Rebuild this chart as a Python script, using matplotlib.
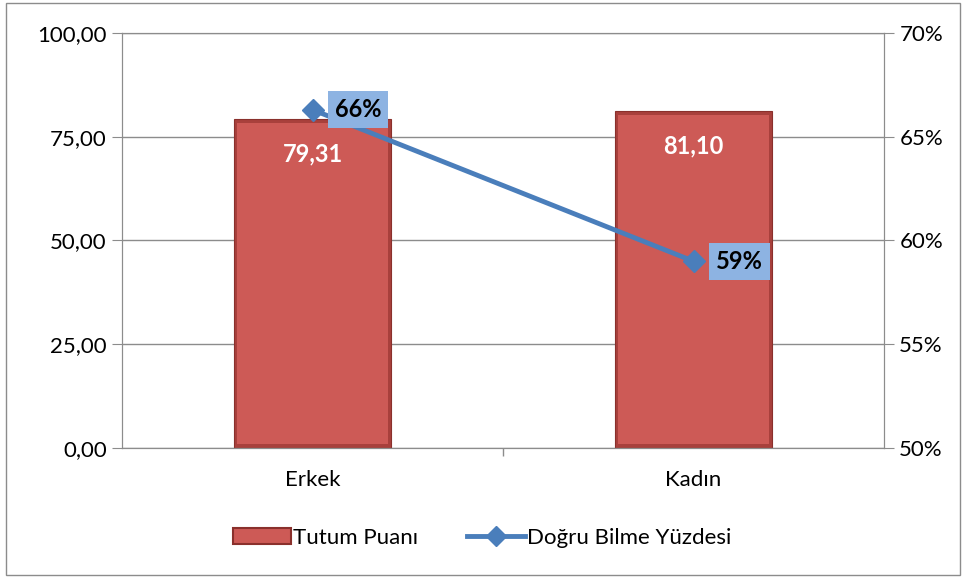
import numpy as np
import matplotlib.pyplot as plt
from matplotlib.patches import Rectangle
from matplotlib.lines import Line2D
from matplotlib.ticker import FuncFormatter

categories = ["Erkek", "Kadın"]
tutum_puani = [79.31, 81.10]
dogru_bilme = [66.3, 59.0]  # percent
bar_labels = ["79,31", "81,10"]
line_labels = ["66%", "59%"]

plt.rcParams["font.family"] = ["Lato", "DejaVu Sans"]

BAR = "#cd5a56"
BAR_EDGE = "#8a302c"
LINE = "#4a7ebb"
GRID = "#8c8c8c"


def main():
    fig = plt.figure(figsize=(9.64, 5.78), dpi=100)
    ax = fig.add_axes([0.1266, 0.2249, 0.7904, 0.7181])
    ax2 = ax.twinx()

    x = np.arange(len(categories))
    # bevel look: dark outer bar, lighter inner bar
    ax.bar(x, tutum_puani, width=0.41, color="#a8403c", edgecolor=BAR_EDGE,
           linewidth=0.8, zorder=2)
    ax.bar(x, np.array(tutum_puani) - 1.8, bottom=0.9, width=0.395, color=BAR,
           linewidth=0, zorder=3)
    for xi, v, s in zip(x, tutum_puani, bar_labels):
        ax.annotate(s, xy=(xi, v), xytext=(0, -25), textcoords="offset points",
                    ha="center", va="center", color="white", fontsize=17,
                    fontweight="bold", zorder=5)

    ax.set_xlim(-0.5, 1.5)
    ax.set_ylim(0, 100)
    ax.set_yticks([0, 25, 50, 75, 100])
    ax.yaxis.set_major_formatter(FuncFormatter(lambda v, p: f"{v:.2f}".replace(".", ",")))
    ax.set_xticks(x)
    ax.set_xticklabels(categories, fontsize=16)
    ax.set_xticks([0.5], minor=True)
    ax.tick_params(axis="x", which="major", length=0, pad=16)
    ax.tick_params(axis="x", which="minor", length=6, color=GRID, width=1)
    ax.tick_params(axis="y", labelsize=16, length=7, color=GRID, pad=4)
    ax.yaxis.grid(True, color=GRID, linewidth=1)
    ax.set_axisbelow(True)
    for sp in ax.spines.values():
        sp.set_color(GRID)
    for sp in ax2.spines.values():
        sp.set_color(GRID)

    ax2.plot(x, dogru_bilme, color=LINE, linewidth=3.5, marker="D",
             markersize=11, markerfacecolor=LINE, markeredgecolor=LINE, zorder=4)
    ax2.set_ylim(50, 70)
    ax2.set_yticks([50, 55, 60, 65, 70])
    ax2.yaxis.set_major_formatter(FuncFormatter(lambda v, p: f"{v:.0f}%"))
    ax2.tick_params(axis="y", labelsize=16, length=7, color=GRID, pad=4)
    for xi, v, s in zip(x, dogru_bilme, line_labels):
        ax2.annotate(s, xy=(xi, v), xytext=(16, 0), textcoords="offset points",
                     ha="left", va="center", color="black", fontsize=17,
                     fontweight="bold", zorder=6,
                     bbox=dict(boxstyle="square,pad=0.3", fc="#8db3e2", ec="none"))
    ax.set_zorder(ax2.get_zorder() - 1)
    ax.patch.set_visible(False)
    ax2.patch.set_visible(False)

    handles = [Rectangle((0, 0), 1, 1, fc=BAR, ec=BAR_EDGE, lw=1.5),
               Line2D([], [], color=LINE, lw=3.5, marker="D", markersize=10)]
    fig.legend(handles, ["Tutum Puanı", "Doğru Bilme Yüzdesi"], loc="center",
               bbox_to_anchor=(0.5, 0.07), ncol=2, frameon=False, fontsize=16,
               handlelength=2.6, handletextpad=0.1, columnspacing=2.2)

    fig.add_artist(Rectangle((0.006, 0.005), 0.99, 0.99, transform=fig.transFigure,
                             fill=False, ec="#8c8c8c", lw=1))
    fig.savefig("out.png", dpi=100)


if __name__ == "__main__":
    main()
